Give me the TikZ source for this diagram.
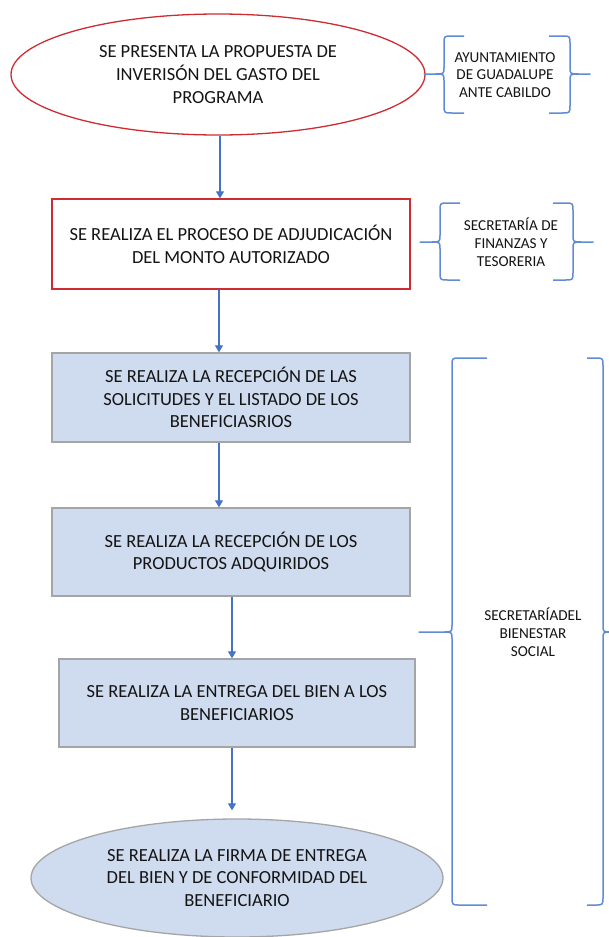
\documentclass[tikz,border=0pt]{standalone}
\usepackage{fontspec}
\setmainfont{Carlito}
\usetikzlibrary{shapes.geometric,arrows.meta}
\definecolor{redline}{RGB}{205,45,50}
\definecolor{arrowblue}{RGB}{68,114,196}
\definecolor{boxfill}{RGB}{207,219,238}
\definecolor{boxline}{RGB}{165,165,165}
\definecolor{bracecol}{RGB}{95,140,210}
\definecolor{txt}{RGB}{20,20,20}
\newcommand\LBr[6]{\draw[brc] (#4,#5) -- ({#3+8},#5) .. controls (#3,#5) .. (#3,{#5+8}) -- (#3,{#2-7}) .. controls (#3,#2) .. ({#3-9},#2) -- (#1,#2) -- ({#3-9},#2) .. controls (#3,#2) .. (#3,{#2+7}) -- (#3,{#6-8}) .. controls (#3,#6) .. ({#3+8},#6) -- (#4,#6);}
\newcommand\RBr[6]{\draw[brc] (#4,#5) -- ({#3-8},#5) .. controls (#3,#5) .. (#3,{#5+8}) -- (#3,{#2-7}) .. controls (#3,#2) .. ({#3+9},#2) -- (#1,#2) -- ({#3+9},#2) .. controls (#3,#2) .. (#3,{#2+7}) -- (#3,{#6-8}) .. controls (#3,#6) .. ({#3-8},#6) -- (#4,#6);}
\begin{document}
\begin{tikzpicture}[x=1pt,y=-1pt,
  bigtext/.style={text=txt, align=center, font=\fontsize{18.5}{22.8}\selectfont, inner sep=0pt},
  smalltext/.style={text=txt, align=center, font=\fontsize{15.2}{17.8}\selectfont, inner sep=0pt},
  ell/.style={bigtext, ellipse, line width=1.3pt},
  redbox/.style={bigtext, rectangle, draw=redline, fill=white, line width=1.3pt},
  bluebox/.style={bigtext, rectangle, draw=boxline, fill=boxfill, line width=1.3pt},
  arr/.style={draw=arrowblue, line width=1.2pt, -{Triangle[length=7pt,width=8pt]}},
  brc/.style={draw=bracecol, line width=1.5pt, line join=round}]
\useasboundingbox (0,0) rectangle (608,937);

\node[ell, draw=redline, minimum width=414pt, minimum height=121pt] (e1) at (218,74.5)
  {SE PRESENTA LA PROPUESTA DE\\INVERISÓN DEL GASTO DEL\\PROGRAMA};
\node[redbox, minimum width=358pt, minimum height=90pt] (r2) at (231,244)
  {SE REALIZA EL PROCESO DE ADJUDICACIÓN\\DEL MONTO AUTORIZADO};
\node[bluebox, minimum width=358pt, minimum height=89pt] (r3) at (231,397.5)
  {SE REALIZA LA RECEPCIÓN DE LAS\\SOLICITUDES Y EL LISTADO DE LOS\\BENEFICIASRIOS};
\node[bluebox, minimum width=358pt, minimum height=88pt] (r4) at (231,552)
  {SE REALIZA LA RECEPCIÓN DE LOS\\PRODUCTOS ADQUIRIDOS};
\node[bluebox, minimum width=356pt, minimum height=88pt] (r5) at (237,703)
  {SE REALIZA LA ENTREGA DEL BIEN A LOS\\BENEFICIARIOS};
\node[ell, draw=boxline, fill=boxfill, minimum width=412pt, minimum height=118pt] (e6) at (237,878)
  {SE REALIZA LA FIRMA DE ENTREGA\\DEL BIEN Y DE CONFORMIDAD DEL\\BENEFICIARIO};

\coordinate (a1) at (220,0);
\coordinate (a2) at (219,0);
\coordinate (a3) at (232,0);
\draw[arr] (e1.south -| a1) -- (r2.north -| a1);
\draw[arr] (r2.south -| a2) -- (r3.north -| a2);
\draw[arr] (r3.south -| a2) -- (r4.north -| a2);
\draw[arr] (r4.south -| a3) -- (r5.north -| a3);
\draw[arr, shorten >=8pt] (r5.south -| a3) -- (e6.north -| a3);

\node[smalltext] (t1) at (505,75) {AYUNTAMIENTO\\DE GUADALUPE\\ANTE CABILDO};
\node[smalltext] (t2) at (511,242) {SECRETARÍA DE\\FINANZAS Y\\TESORERIA};
\node[smalltext] (t3) at (533,632) {SECRETARÍADEL\\BIENESTAR\\SOCIAL};

\LBr{424}{74}{444}{464}{36}{113}
\RBr{590}{74}{570}{549}{36}{113}
\LBr{420}{242}{440}{460}{203}{280}
\RBr{593}{242}{573}{553}{203}{280}
\LBr{419}{632}{452}{487}{358}{905}
\RBr{608}{632}{603}{587}{358}{905}
\end{tikzpicture}
\end{document}
